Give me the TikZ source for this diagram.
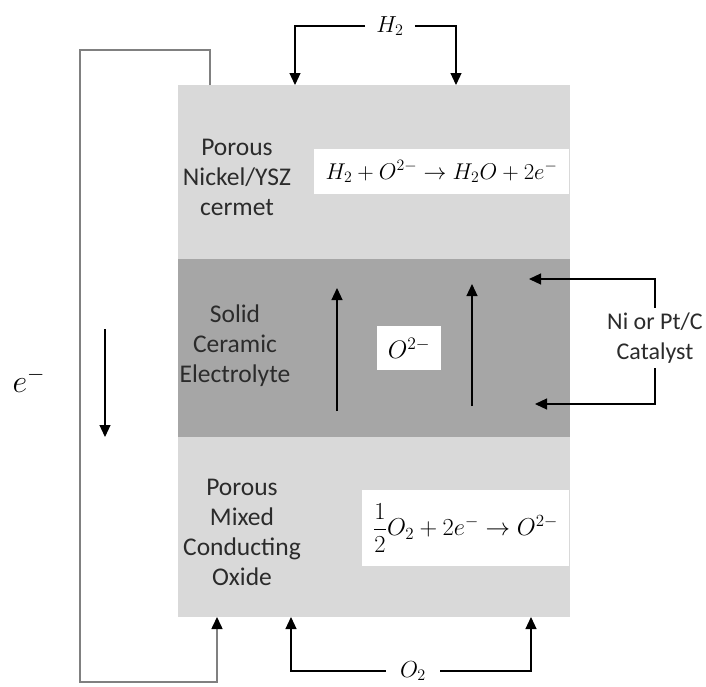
\documentclass[tikz,border=0pt]{standalone}
\usepackage{amsmath}
\usepackage{graphicx}
\usepackage{fontspec}
\setmainfont{Carlito}
\usetikzlibrary{arrows.meta}
\definecolor{lightlayer}{HTML}{D9D9D9}
\definecolor{darklayer}{HTML}{A6A6A6}
\definecolor{txt}{HTML}{2B2B2B}
\definecolor{wirecol}{HTML}{808080}
\begin{document}
\begin{tikzpicture}[x=1pt,y=-1pt,
  layer/.style={fill=#1, draw=none, inner sep=0, anchor=north west},
  lbl/.style={font=\fontsize{25.5}{30}\selectfont, text=txt, align=center, inner sep=0},
  eqbox/.style={fill=white, font=\fontsize{20}{24}\selectfont, inner sep=0},
  mathlbl/.style={font=\fontsize{20}{24}\selectfont, inner ysep=0},
  arr/.style={-{Triangle[width=11pt,length=12pt]}, line width=1.2pt, draw=black},
  wire/.style={draw=wirecol, line width=1.6pt}]
\useasboundingbox (0,0) rectangle (706,686);
% layers
\node[layer=lightlayer, minimum width=392pt, minimum height=174pt] (anode) at (178,85) {};
\node[layer=darklayer, minimum width=392pt, minimum height=178pt] (elec) at (178,259) {};
\node[layer=lightlayer, minimum width=392pt, minimum height=180pt] (cath) at (178,437) {};
% layer labels
\node[lbl] (alabel) at (237,177) {Porous\\Nickel/YSZ\\cermet};
\node[lbl] (elabel) at (235,346) {Solid\\Ceramic\\Electrolyte};
\node[lbl] (clabel) at (242,532) {Porous\\Mixed\\Conducting\\Oxide};
% equations
\node[eqbox, minimum width=255pt, minimum height=45pt] (eqa) at (441.5,171.5)
  {\scalebox{1.1}{$H_2+O^{2-}\rightarrow H_2O+2e^-$}};
\node[eqbox, minimum width=64pt, minimum height=44pt] (ion) at (409,348)
  {\scalebox{1.22}{$O^{2-}$}};
\node[eqbox, minimum width=207pt, minimum height=76pt] (eqc) at (465.5,528)
  {\scalebox{1.18}{$\dfrac{1}{2}O_2+2e^-\rightarrow O^{2-}$}};
% H2 feed
\node[mathlbl, inner xsep=11pt] (h2) at (390,26) {\scalebox{1.12}{$H_2$}};
\coordinate (h2a) at (295,85);
\coordinate (h2b) at (456,85);
\draw[arr] (h2.west) -| (h2a);
\draw[arr] (h2.east) -| (h2b);
% O2 feed
\node[mathlbl, inner xsep=14pt] (o2) at (413,671) {\scalebox{1.12}{$O_2$}};
\coordinate (o2a) at (291,617);
\coordinate (o2b) at (531,617);
\draw[arr] (o2.west) -| (o2a);
\draw[arr] (o2.east) -| (o2b);
% ion arrows
\coordinate (i1s) at (337,411);
\coordinate (i1e) at (337,288);
\coordinate (i2s) at (472,406);
\coordinate (i2e) at (472,284);
\draw[arr] (i1s) -- (i1e);
\draw[arr] (i2s) -- (i2e);
% catalyst
\node[lbl, inner ysep=5pt, font=\fontsize{24}{30}\selectfont] (cat) at (655,338) {Ni or Pt/C\\Catalyst};
\coordinate (c1) at (529,279);
\coordinate (c2) at (535,404);
\draw[arr] (cat.north) |- (c1);
\draw[arr] (cat.south) |- (c2);
% external circuit
\coordinate (w0) at (210,85);
\coordinate (w1) at (210,50);
\coordinate (w2) at (80,50);
\coordinate (w3) at (80,682);
\coordinate (w4) at (217,682);
\coordinate (w5) at (217,617);
\draw[wire, -{Triangle[width=11pt,length=12pt,color=black]}] (w0) -- (w1) -- (w2) -- (w3) -- (w4) -- (w5);
\node[mathlbl, inner sep=0] (em) at (29,380) {\scalebox{1.55}{$e^-$}};
\coordinate (d1) at (105,329);
\coordinate (d2) at (105,437);
\draw[arr] (d1) -- (d2);
\end{tikzpicture}
\end{document}
